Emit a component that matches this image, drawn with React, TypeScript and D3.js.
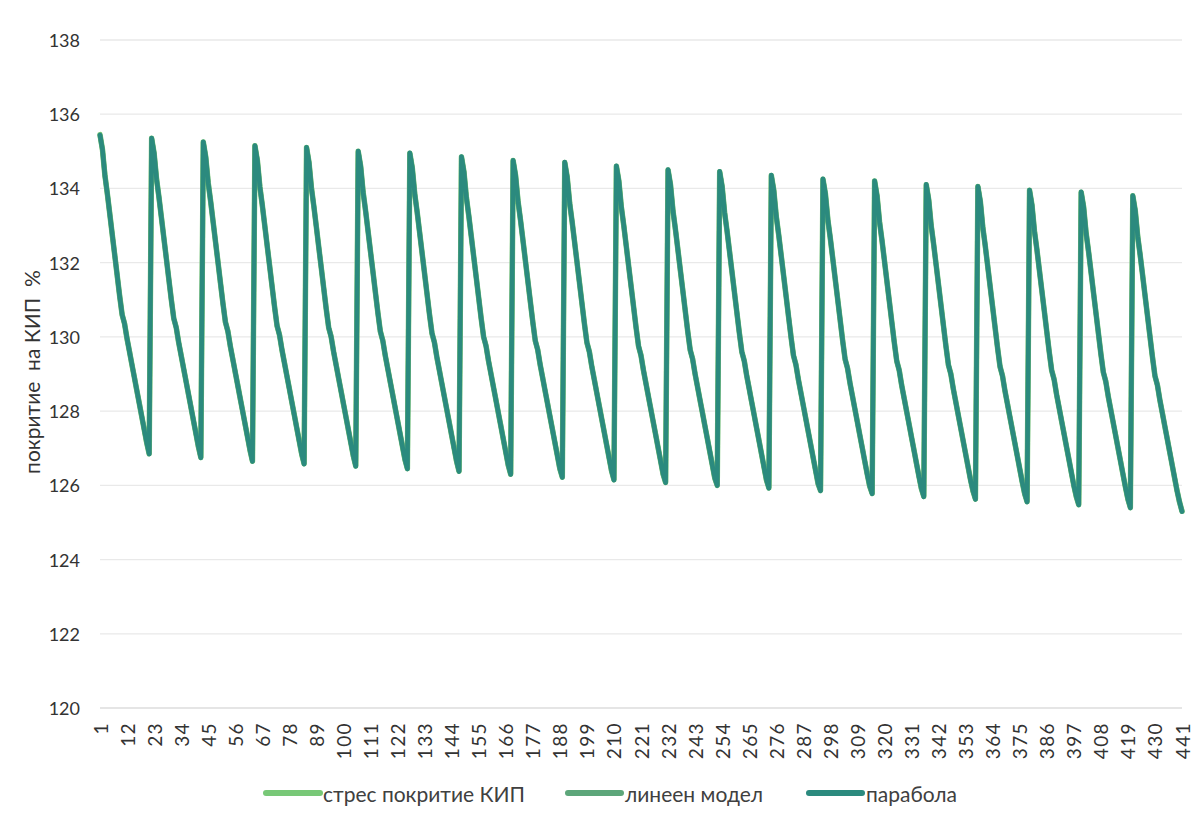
import React from "react";
import * as d3 from "d3";

// categories 1..441
const categories: number[] = d3.range(1, 442);

const xTickLabels: number[] = [1, 12, 23, 34, 45, 56, 67, 78, 89, 100, 111, 122, 133, 144, 155, 166, 177, 188, 199, 210, 221, 232, 243, 254, 265, 276, 287, 298, 309, 320, 331, 342, 353, 364, 375, 386, 397, 408, 419, 430, 441];

const yTicks: number[] = [120, 122, 124, 126, 128, 130, 132, 134, 136, 138];

const seriesNames: string[] = ["стрес покритие КИП", "линеен модел", "парабола"];

const stress: number[] = [
135.45,135.05,134.35,133.85,133.30,132.75,132.20,131.65,131.10,130.60,130.35,129.95,129.60,129.25,128.90,128.55,128.20,127.85,127.50,127.15,126.85,
135.35,134.95,134.25,133.75,133.20,132.65,132.10,131.55,131.00,130.50,130.25,129.85,129.50,129.15,128.80,128.45,128.10,127.75,127.40,127.05,126.75,
135.25,134.85,134.15,133.65,133.10,132.55,132.00,131.45,130.90,130.40,130.15,129.75,129.40,129.05,128.70,128.35,128.00,127.65,127.30,126.95,126.65,
135.15,134.75,134.05,133.55,133.00,132.45,131.90,131.35,130.80,130.30,130.05,129.65,129.30,128.95,128.60,128.25,127.90,127.55,127.20,126.85,126.58,
135.10,134.70,134.00,133.50,132.95,132.40,131.85,131.30,130.75,130.25,130.00,129.60,129.25,128.90,128.55,128.20,127.85,127.50,127.15,126.80,126.52,
135.00,134.60,133.90,133.40,132.85,132.30,131.75,131.20,130.65,130.15,129.90,129.50,129.15,128.80,128.45,128.10,127.75,127.40,127.05,126.70,126.45,
134.95,134.55,133.85,133.35,132.80,132.25,131.70,131.15,130.60,130.10,129.85,129.45,129.10,128.75,128.40,128.05,127.70,127.35,127.00,126.65,126.38,
134.85,134.45,133.75,133.25,132.70,132.15,131.60,131.05,130.50,130.00,129.75,129.35,129.00,128.65,128.30,127.95,127.60,127.25,126.90,126.55,126.30,
134.75,134.35,133.65,133.15,132.60,132.05,131.50,130.95,130.40,129.90,129.65,129.25,128.90,128.55,128.20,127.85,127.50,127.15,126.80,126.45,126.22,
134.70,134.30,133.60,133.10,132.55,132.00,131.45,130.90,130.35,129.85,129.60,129.20,128.85,128.50,128.15,127.80,127.45,127.10,126.75,126.40,126.15,
134.60,134.20,133.50,133.00,132.45,131.90,131.35,130.80,130.25,129.75,129.50,129.10,128.75,128.40,128.05,127.70,127.35,127.00,126.65,126.30,126.08,
134.50,134.10,133.40,132.90,132.35,131.80,131.25,130.70,130.15,129.65,129.40,129.00,128.65,128.30,127.95,127.60,127.25,126.90,126.55,126.20,126.00,
134.45,134.05,133.35,132.85,132.30,131.75,131.20,130.65,130.10,129.60,129.35,128.95,128.60,128.25,127.90,127.55,127.20,126.85,126.50,126.15,125.93,
134.35,133.95,133.25,132.75,132.20,131.65,131.10,130.55,130.00,129.50,129.25,128.85,128.50,128.15,127.80,127.45,127.10,126.75,126.40,126.05,125.86,
134.25,133.85,133.15,132.65,132.10,131.55,131.00,130.45,129.90,129.40,129.15,128.75,128.40,128.05,127.70,127.35,127.00,126.65,126.30,125.98,125.78,
134.20,133.80,133.10,132.60,132.05,131.50,130.95,130.40,129.85,129.35,129.10,128.70,128.35,128.00,127.65,127.30,126.95,126.60,126.25,125.92,125.70,
134.10,133.70,133.00,132.50,131.95,131.40,130.85,130.30,129.75,129.25,129.00,128.60,128.25,127.90,127.55,127.20,126.85,126.50,126.15,125.85,125.63,
134.05,133.65,132.95,132.45,131.90,131.35,130.80,130.25,129.70,129.20,128.95,128.55,128.20,127.85,127.50,127.15,126.80,126.45,126.10,125.78,125.56,
133.95,133.55,132.85,132.35,131.80,131.25,130.70,130.15,129.60,129.10,128.85,128.45,128.10,127.75,127.40,127.05,126.70,126.35,126.00,125.70,125.48,
133.90,133.50,132.80,132.30,131.75,131.20,130.65,130.10,129.55,129.05,128.80,128.40,128.05,127.70,127.35,127.00,126.65,126.30,125.95,125.63,125.40,
133.80,133.40,132.70,132.20,131.65,131.10,130.55,130.00,129.45,128.95,128.70,128.30,127.95,127.60,127.25,126.90,126.55,126.20,125.85,125.55,125.30
];

const linearModel: number[] = [
135.43,135.04,134.36,133.84,133.31,132.74,132.21,131.64,131.11,130.59,130.36,129.94,129.61,129.24,128.91,128.54,128.21,127.84,127.51,127.14,126.86,
135.34,134.94,134.26,133.74,133.21,132.64,132.11,131.54,131.01,130.49,130.26,129.84,129.51,129.14,128.81,128.44,128.11,127.74,127.41,127.04,126.76,
135.24,134.84,134.16,133.64,133.11,132.54,132.01,131.44,130.91,130.39,130.16,129.74,129.41,129.04,128.71,128.34,128.01,127.64,127.31,126.94,126.66,
135.14,134.74,134.06,133.54,133.01,132.44,131.91,131.34,130.81,130.29,130.06,129.64,129.31,128.94,128.61,128.24,127.91,127.54,127.21,126.84,126.59,
135.09,134.69,134.01,133.49,132.96,132.39,131.86,131.29,130.76,130.24,130.01,129.59,129.26,128.89,128.56,128.19,127.86,127.49,127.16,126.79,126.53,
134.99,134.59,133.91,133.39,132.86,132.29,131.76,131.19,130.66,130.14,129.91,129.49,129.16,128.79,128.46,128.09,127.76,127.39,127.06,126.69,126.46,
134.94,134.54,133.86,133.34,132.81,132.24,131.71,131.14,130.61,130.09,129.86,129.44,129.11,128.74,128.41,128.04,127.71,127.34,127.01,126.64,126.39,
134.84,134.44,133.76,133.24,132.71,132.14,131.61,131.04,130.51,129.99,129.76,129.34,129.01,128.64,128.31,127.94,127.61,127.24,126.91,126.54,126.31,
134.74,134.34,133.66,133.14,132.61,132.04,131.51,130.94,130.41,129.89,129.66,129.24,128.91,128.54,128.21,127.84,127.51,127.14,126.81,126.44,126.23,
134.69,134.29,133.61,133.09,132.56,131.99,131.46,130.89,130.36,129.84,129.61,129.19,128.86,128.49,128.16,127.79,127.46,127.09,126.76,126.39,126.16,
134.59,134.19,133.51,132.99,132.46,131.89,131.36,130.79,130.26,129.74,129.51,129.09,128.76,128.39,128.06,127.69,127.36,126.99,126.66,126.29,126.09,
134.49,134.09,133.41,132.89,132.36,131.79,131.26,130.69,130.16,129.64,129.41,128.99,128.66,128.29,127.96,127.59,127.26,126.89,126.56,126.19,126.01,
134.44,134.04,133.36,132.84,132.31,131.74,131.21,130.64,130.11,129.59,129.36,128.94,128.61,128.24,127.91,127.54,127.21,126.84,126.51,126.14,125.94,
134.34,133.94,133.26,132.74,132.21,131.64,131.11,130.54,130.01,129.49,129.26,128.84,128.51,128.14,127.81,127.44,127.11,126.74,126.41,126.04,125.87,
134.24,133.84,133.16,132.64,132.11,131.54,131.01,130.44,129.91,129.39,129.16,128.74,128.41,128.04,127.71,127.34,127.01,126.64,126.31,125.97,125.79,
134.19,133.79,133.11,132.59,132.06,131.49,130.96,130.39,129.86,129.34,129.11,128.69,128.36,127.99,127.66,127.29,126.96,126.59,126.26,125.91,125.71,
134.09,133.69,133.01,132.49,131.96,131.39,130.86,130.29,129.76,129.24,129.01,128.59,128.26,127.89,127.56,127.19,126.86,126.49,126.16,125.84,125.64,
134.04,133.64,132.96,132.44,131.91,131.34,130.81,130.24,129.71,129.19,128.96,128.54,128.21,127.84,127.51,127.14,126.81,126.44,126.11,125.77,125.57,
133.94,133.54,132.86,132.34,131.81,131.24,130.71,130.14,129.61,129.09,128.86,128.44,128.11,127.74,127.41,127.04,126.71,126.34,126.01,125.69,125.49,
133.89,133.49,132.81,132.29,131.76,131.19,130.66,130.09,129.56,129.04,128.81,128.39,128.06,127.69,127.36,126.99,126.66,126.29,125.96,125.62,125.41,
133.79,133.39,132.71,132.19,131.66,131.09,130.56,129.99,129.46,128.94,128.71,128.29,127.96,127.59,127.26,126.89,126.56,126.19,125.86,125.54,125.31
];

const parabola: number[] = [
135.44,135.06,134.34,133.86,133.29,132.76,132.19,131.66,131.09,130.61,130.34,129.96,129.59,129.26,128.89,128.56,128.19,127.86,127.49,127.16,126.84,
135.36,134.96,134.24,133.76,133.19,132.66,132.09,131.56,130.99,130.51,130.24,129.86,129.49,129.16,128.79,128.46,128.09,127.76,127.39,127.06,126.74,
135.26,134.86,134.14,133.66,133.09,132.56,131.99,131.46,130.89,130.41,130.14,129.76,129.39,129.06,128.69,128.36,127.99,127.66,127.29,126.96,126.64,
135.16,134.76,134.04,133.56,132.99,132.46,131.89,131.36,130.79,130.31,130.04,129.66,129.29,128.96,128.59,128.26,127.89,127.56,127.19,126.86,126.57,
135.11,134.71,133.99,133.51,132.94,132.41,131.84,131.31,130.74,130.26,129.99,129.61,129.24,128.91,128.54,128.21,127.84,127.51,127.14,126.81,126.51,
135.01,134.61,133.89,133.41,132.84,132.31,131.74,131.21,130.64,130.16,129.89,129.51,129.14,128.81,128.44,128.11,127.74,127.41,127.04,126.71,126.44,
134.96,134.56,133.84,133.36,132.79,132.26,131.69,131.16,130.59,130.11,129.84,129.46,129.09,128.76,128.39,128.06,127.69,127.36,126.99,126.66,126.37,
134.86,134.46,133.74,133.26,132.69,132.16,131.59,131.06,130.49,130.01,129.74,129.36,128.99,128.66,128.29,127.96,127.59,127.26,126.89,126.56,126.29,
134.76,134.36,133.64,133.16,132.59,132.06,131.49,130.96,130.39,129.91,129.64,129.26,128.89,128.56,128.19,127.86,127.49,127.16,126.79,126.46,126.21,
134.71,134.31,133.59,133.11,132.54,132.01,131.44,130.91,130.34,129.86,129.59,129.21,128.84,128.51,128.14,127.81,127.44,127.11,126.74,126.41,126.14,
134.61,134.21,133.49,133.01,132.44,131.91,131.34,130.81,130.24,129.76,129.49,129.11,128.74,128.41,128.04,127.71,127.34,127.01,126.64,126.31,126.07,
134.51,134.11,133.39,132.91,132.34,131.81,131.24,130.71,130.14,129.66,129.39,129.01,128.64,128.31,127.94,127.61,127.24,126.91,126.54,126.21,125.99,
134.46,134.06,133.34,132.86,132.29,131.76,131.19,130.66,130.09,129.61,129.34,128.96,128.59,128.26,127.89,127.56,127.19,126.86,126.49,126.16,125.92,
134.36,133.96,133.24,132.76,132.19,131.66,131.09,130.56,129.99,129.51,129.24,128.86,128.49,128.16,127.79,127.46,127.09,126.76,126.39,126.06,125.85,
134.26,133.86,133.14,132.66,132.09,131.56,130.99,130.46,129.89,129.41,129.14,128.76,128.39,128.06,127.69,127.36,126.99,126.66,126.29,125.99,125.77,
134.21,133.81,133.09,132.61,132.04,131.51,130.94,130.41,129.84,129.36,129.09,128.71,128.34,128.01,127.64,127.31,126.94,126.61,126.24,125.93,125.69,
134.11,133.71,132.99,132.51,131.94,131.41,130.84,130.31,129.74,129.26,128.99,128.61,128.24,127.91,127.54,127.21,126.84,126.51,126.14,125.86,125.62,
134.06,133.66,132.94,132.46,131.89,131.36,130.79,130.26,129.69,129.21,128.94,128.56,128.19,127.86,127.49,127.16,126.79,126.46,126.09,125.79,125.55,
133.96,133.56,132.84,132.36,131.79,131.26,130.69,130.16,129.59,129.11,128.84,128.46,128.09,127.76,127.39,127.06,126.69,126.36,125.99,125.71,125.47,
133.91,133.51,132.79,132.31,131.74,131.21,130.64,130.11,129.54,129.06,128.79,128.41,128.04,127.71,127.34,127.01,126.64,126.31,125.94,125.64,125.39,
133.81,133.41,132.69,132.21,131.64,131.11,130.54,130.01,129.44,128.96,128.69,128.31,127.94,127.61,127.24,126.91,126.54,126.21,125.84,125.56,125.29
];

const colors: string[] = ["#78c877", "#5da67a", "#2b8a7e"];

const W = 1196;
const H = 823;
const FONT = "Lato, 'Open Sans', sans-serif";

export default function App() {
  const x = d3.scalePoint<number>().domain(categories).range([100, 1182]);
  const y = d3.scaleLinear().domain([120, 138]).range([708, 40]);
  const line = d3
    .line<number>()
    .x((_, i) => x(categories[i]) as number)
    .y((d) => y(d));

  const allSeries = [stress, linearModel, parabola];
  const widths = [5.5, 5, 4.5];

  const legendItems = [
    { x1: 266, x2: 320, tx: 323 },
    { x1: 568, x2: 621, tx: 625 },
    { x1: 809, x2: 862, tx: 866 },
  ];

  return (
    <div style={{ position: "absolute", left: 0, top: 0 }}>
      <svg width={W} height={H} style={{ display: "block", background: "#fff" }}>
        {/* gridlines */}
        {yTicks.map((t) => (
          <line
            key={"g" + t}
            x1={100}
            x2={1182}
            y1={y(t)}
            y2={y(t)}
            stroke={t === 120 ? "#dcdcdc" : "#e9e9e9"}
            strokeWidth={1.3}
          />
        ))}
        {/* y tick labels */}
        {yTicks.map((t) => (
          <text
            key={"yl" + t}
            x={80}
            y={y(t)}
            textAnchor="end"
            dominantBaseline="central"
            fontFamily={FONT}
            fontSize={18}
            fill="#333"
          >
            {t}
          </text>
        ))}
        {/* x tick labels */}
        {xTickLabels.map((c) => (
          <text
            key={"xl" + c}
            transform={`translate(${x(c)},${722}) rotate(-90)`}
            textAnchor="end"
            dominantBaseline="central"
            fontFamily={FONT}
            fontSize={19}
            letterSpacing={1.4}
            fill="#333"
          >
            {c}
          </text>
        ))}
        {/* y axis title */}
        <text
          transform={`translate(31,${372}) rotate(-90)`}
          textAnchor="middle"
          dominantBaseline="central"
          fontFamily={FONT}
          fontSize={21}
          fill="#333"
          style={{ whiteSpace: "pre" }}
        >
          {"покритие  на КИП  %"}
        </text>
        {/* series */}
        {allSeries.map((s, i) => (
          <path
            key={"s" + i}
            d={line(s) || ""}
            fill="none"
            stroke={colors[i]}
            strokeWidth={widths[i]}
            strokeLinejoin="round"
            strokeLinecap="round"
          />
        ))}
        {/* legend */}
        {legendItems.map((l, i) => (
          <g key={"lg" + i}>
            <line
              x1={l.x1}
              x2={l.x2}
              y1={793}
              y2={793}
              stroke={colors[i]}
              strokeWidth={6}
              strokeLinecap="round"
            />
            <text
              x={l.tx}
              y={793}
              dominantBaseline="central"
              fontFamily={FONT}
              fontSize={21}
              fill="#404040"
            >
              {seriesNames[i]}
            </text>
          </g>
        ))}
      </svg>
    </div>
  );
}
